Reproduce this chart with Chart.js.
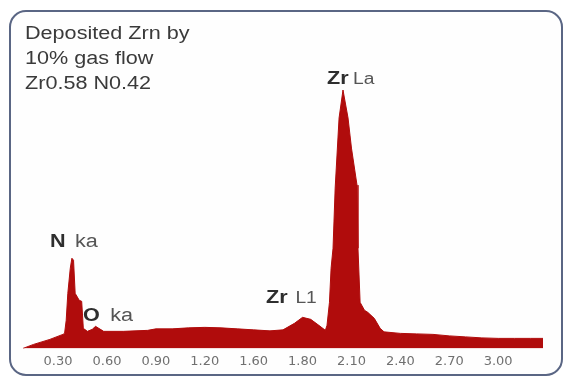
<!DOCTYPE html>
<html>
<head>
<meta charset="utf-8">
<script src="https://cdn.jsdelivr.net/npm/chart.js@4.4.0/dist/chart.umd.min.js"></script>
<style>
  html, body { margin: 0; padding: 0; background: #ffffff; }
  #wrap { width: 569px; height: 383px; position: relative; }
</style>
</head>
<body>
<div id="wrap"><canvas id="edsChart"></canvas></div>
<script>
// energy (keV) and counts
const energy = [0.085, 0.15, 0.25, 0.33, 0.34, 0.35, 0.36, 0.375, 0.385, 0.395, 0.405, 0.43, 0.445,
  0.455, 0.48, 0.51, 0.53, 0.55, 0.58, 0.7, 0.85, 0.9, 1.0, 1.1, 1.2, 1.3, 1.4, 1.5, 1.6,
  1.68, 1.75, 1.8, 1.85, 1.9, 1.94, 1.95, 1.965, 1.975, 1.987, 2.0, 2.024, 2.048, 2.079,
  2.1, 2.134, 2.14, 2.153, 2.18, 2.2, 2.24, 2.276, 2.3, 2.4, 2.5, 2.6, 2.7, 2.8, 2.9, 3.0,
  3.1, 3.2, 3.275];
const counts = [0, 40, 90, 140, 150, 280, 550, 800, 900, 880, 550, 480, 470,
  200, 170, 190, 220, 200, 170, 170, 180, 195, 195, 205, 210, 205, 195, 185, 175,
  185, 250, 310, 290, 230, 180, 230, 460, 800, 1000, 1600, 2300, 2580, 2300,
  2000, 1630, 1000, 460, 380, 360, 300, 200, 165, 150, 145, 140, 125, 115, 105, 100,
  100, 100, 100];

const tickValues = [0.3, 0.6, 0.9, 1.2, 1.5, 1.8, 2.1, 2.4, 2.7, 3.0];
const tickLabels = ["0.30", "0.60", "0.90", "1.20", "1.60", "1.80", "2.10", "2.40", "2.70", "3.00"];

const infoLines = ["Deposited Zrn by", "10% gas flow", "Zr0.58 N0.42"];

const RED = "#b00c0c";
const SX = 1.2; // text in the picture is stretched sideways

function stretchText(ctx, txt, x, y, font, color) {
  ctx.save();
  ctx.font = font;
  ctx.fillStyle = color;
  ctx.textBaseline = "alphabetic";
  ctx.translate(x, y);
  ctx.scale(SX, 1);
  ctx.fillText(txt, 0, 0);
  ctx.restore();
}

const framePlugin = {
  id: "frame",
  beforeDraw(chart) {
    const ctx = chart.ctx;
    ctx.save();
    ctx.fillStyle = "#ffffff";
    ctx.fillRect(0, 0, chart.width, chart.height);
    ctx.beginPath();
    ctx.roundRect(10, 11, 552, 364, 16);
    ctx.fillStyle = "#fefefe";
    ctx.fill();
    ctx.lineWidth = 2;
    ctx.strokeStyle = "#5a6684";
    ctx.stroke();
    ctx.restore();
  },
  afterDraw(chart) {
    const ctx = chart.ctx;
    const x = chart.scales.x, y = chart.scales.y;
    const dark = "#2e2e2e", grey = "#555555";
    const reg = "18px 'Liberation Sans', Arial, sans-serif";
    const bold = "bold 18px 'Liberation Sans', Arial, sans-serif";
    const small = "16px 'Liberation Sans', Arial, sans-serif";

    infoLines.forEach((t, i) => stretchText(ctx, t, 25, 39 + i * 25, reg, "#3a3a3a"));

    // peak labels, anchored on the axes
    stretchText(ctx, "N", x.getPixelForValue(0.251), y.getPixelForValue(1010), bold, dark);
    stretchText(ctx, "ka", x.getPixelForValue(0.404), y.getPixelForValue(1010), reg, grey);
    stretchText(ctx, "O", x.getPixelForValue(0.453), y.getPixelForValue(270), bold, dark);
    stretchText(ctx, "ka", x.getPixelForValue(0.62), y.getPixelForValue(270), reg, grey);
    stretchText(ctx, "Zr", x.getPixelForValue(1.576), y.getPixelForValue(450), bold, dark);
    stretchText(ctx, "L1", x.getPixelForValue(1.756), y.getPixelForValue(450), small, grey);
    stretchText(ctx, "Zr", x.getPixelForValue(1.95), y.getPixelForValue(2640), bold, dark);
    stretchText(ctx, "La", x.getPixelForValue(2.11), y.getPixelForValue(2640), small, grey);
  }
};

const ctx = document.getElementById("edsChart");
new Chart(ctx, {
  type: "line",
  data: {
    datasets: [
      {
        data: energy.map((e, i) => ({ x: e, y: counts[i] })),
        borderColor: RED,
        backgroundColor: RED,
        borderWidth: 1,
        fill: "origin",
        pointRadius: 0,
        tension: 0,
      },
    ],
  },
  options: {
    responsive: true,
    maintainAspectRatio: false,
    animation: false,
    layout: { padding: { left: 23, right: 26, top: 88, bottom: 9 } },
    plugins: { legend: { display: false }, tooltip: { enabled: false } },
    scales: {
      x: {
        type: "linear",
        min: 0.085,
        max: 3.275,
        grid: { display: false, drawTicks: false },
        border: { display: false },
        afterBuildTicks: (scale) => {
          scale.ticks = tickValues.map((v) => ({ value: v }));
        },
        ticks: {
          padding: 5,
          maxRotation: 0,
          autoSkip: false,
          color: "#707070",
          font: { family: "'DejaVu Sans'", size: 13 },
          callback: (value, index) => tickLabels[index],
        },
      },
      y: {
        display: false,
        min: 0,
        max: 2600,
      },
    },
  },
  plugins: [framePlugin],
});
</script>
</body>
</html>
